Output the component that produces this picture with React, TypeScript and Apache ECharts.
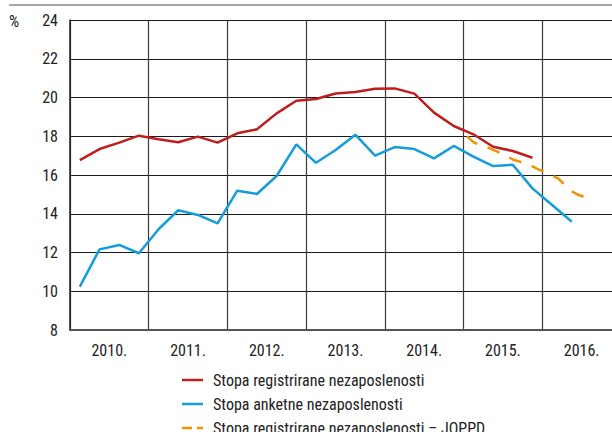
import React, { useEffect, useRef } from "react";
import * as echarts from "echarts";

const yearLabels = ["2010.", "2011.", "2012.", "2013.", "2014.", "2015.", "2016."];
const firstYear = 2010;

// Quarterly, 2010 Q1 – 2015 Q4
const registeredRate = [
  16.77, 17.34, 17.67, 18.03,
  17.85, 17.69, 17.98, 17.67,
  18.15, 18.36, 19.18, 19.83,
  19.92, 20.21, 20.28, 20.45,
  20.47, 20.2, 19.22, 18.53,
  18.1, 17.46, 17.24, 16.89,
];

// Quarterly, 2010 Q1 – 2016 Q2
const surveyRate = [
  10.24, 12.16, 12.39, 11.96,
  13.2, 14.18, 13.94, 13.5,
  15.19, 15.02, 15.95, 17.58,
  16.63, 17.29, 18.08, 17.0,
  17.44, 17.34, 16.86, 17.5,
  16.95, 16.46, 16.53, 15.31,
  14.45, 13.59,
];

// Monthly, Jan 2015 – Aug 2016
const joppdStartYear = 2015;
const joppdRate = [
  18.0, 17.7, 17.55, 17.45, 17.3, 17.15, 17.0, 16.8, 16.7, 16.55, 16.45, 16.27,
  16.15, 15.98, 15.8, 15.45, 15.15, 14.98, 14.85, 14.67,
];

const seriesNames = [
  "Stopa registrirane nezaposlenosti",
  "Stopa anketne nezaposlenosti",
  "Stopa registrirane nezaposlenosti – JOPPD",
];

const RED = "#be1e1e";
const BLUE = "#149dd9";
const ORANGE = "#f39200";
const FONT = "'Liberation Sans Narrow', 'Arial Narrow', 'Roboto Condensed', sans-serif";

const solidIcon = "path://M0,0h21v2.5h-21z";
const dashedIcon = "path://M0,0h10v2.5h-10z M15,0h6v2.5h-6z";

export default function App() {
  const ref = useRef<HTMLDivElement>(null);
  useEffect(() => {
    if (!ref.current) return;
    const chart = echarts.init(ref.current, undefined, { renderer: "svg" });
    const quarterly = (arr: number[]) => arr.map((v, i) => [firstYear + (i + 0.5) / 4, v]);
    const monthly = (arr: number[]) => arr.map((v, i) => [joppdStartYear + (i + 0.5) / 12, v]);
    const legendFor = (name: string, top: number, icon: string) => ({
      orient: "vertical",
      left: 182,
      top,
      padding: 0,
      itemWidth: 21,
      itemHeight: 2.5,
      icon,
      textStyle: { fontSize: 16, color: "#222", fontFamily: FONT, padding: [0, 0, 0, 5] },
      data: [name],
    });
    chart.setOption({
      animation: false,
      textStyle: { fontFamily: FONT, color: "#222" },
      grid: { left: 70, right: 9, top: 20, bottom: 102 },
      graphic: [
        { type: "line", shape: { x1: 9, y1: 5, x2: 630, y2: 5 }, style: { stroke: "#8a8a8a", lineWidth: 1.5 } },
        { type: "text", x: 9, y: 21, style: { text: "%", fontSize: 16, fontFamily: FONT, fill: "#222", verticalAlign: "middle" } },
      ],
      xAxis: [
        {
          type: "value",
          min: 2010,
          max: 2017,
          interval: 1,
          axisLabel: { show: false },
          axisTick: { show: false },
          axisLine: { show: true, lineStyle: { color: "#555", width: 2 } },
          splitLine: { show: true, lineStyle: { color: "#3a3a3a", width: 1.2 } },
        },
        {
          type: "category",
          position: "bottom",
          data: yearLabels,
          axisLine: { show: false },
          axisTick: { show: false },
          splitLine: { show: false },
          axisLabel: { fontSize: 16, margin: 12, color: "#222", fontFamily: FONT },
        },
      ],
      yAxis: {
        type: "value",
        min: 8,
        max: 24,
        interval: 2,
        axisLine: { show: true, lineStyle: { color: "#222", width: 1.5 } },
        axisTick: { show: false },
        axisLabel: { fontSize: 16, margin: 12, color: "#222", fontFamily: FONT },
        splitLine: { show: true, lineStyle: { color: "#1a1a1a", width: 1 } },
      },
      legend: [
        legendFor(seriesNames[0], 372, solidIcon),
        legendFor(seriesNames[1], 396, solidIcon),
        legendFor(seriesNames[2], 420, dashedIcon),
      ],
      series: [
        {
          name: seriesNames[0],
          type: "line",
          xAxisIndex: 0,
          data: quarterly(registeredRate),
          symbol: "none",
          lineStyle: { color: RED, width: 2.5 },
          itemStyle: { color: RED },
        },
        {
          name: seriesNames[1],
          type: "line",
          xAxisIndex: 0,
          data: quarterly(surveyRate),
          symbol: "none",
          lineStyle: { color: BLUE, width: 2.5 },
          itemStyle: { color: BLUE },
        },
        {
          name: seriesNames[2],
          type: "line",
          xAxisIndex: 0,
          data: monthly(joppdRate),
          symbol: "none",
          lineStyle: { color: ORANGE, width: 2.5, type: [13, 11] },
          itemStyle: { color: ORANGE },
        },
      ],
    });
    return () => chart.dispose();
  }, []);
  return (
    <div style={{ position: "absolute", left: 0, top: 0, width: 612, height: 432, overflow: "hidden", background: "#fff" }}>
      <div ref={ref} style={{ width: 630, height: 432 }} />
    </div>
  );
}
